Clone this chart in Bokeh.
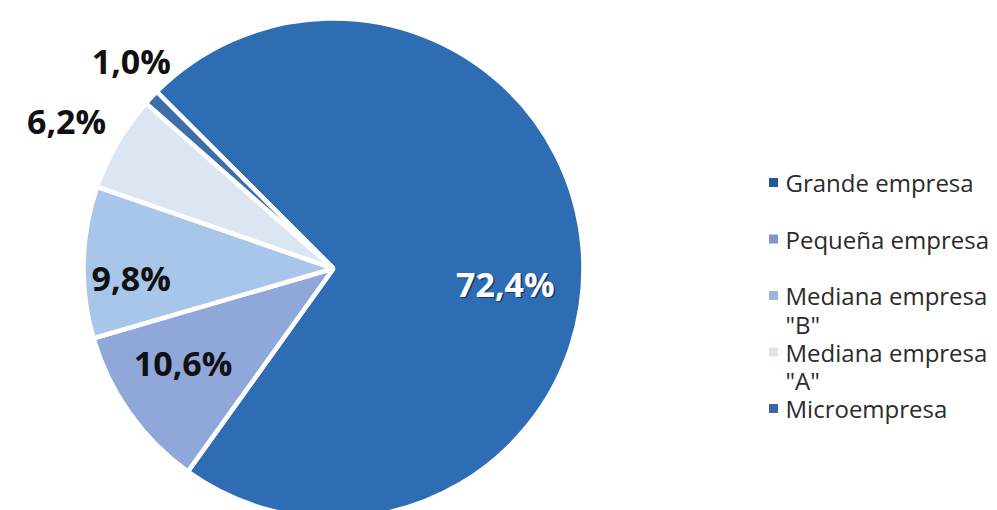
import numpy as np
from bokeh.plotting import figure
from bokeh.models import ColumnDataSource, Range1d
from bokeh.core.properties import value
from bokeh.embed import file_html
from bokeh.resources import INLINE

# ---- data ----
categories = ["Grande empresa", "Pequeña empresa", 'Mediana empresa "B"',
              'Mediana empresa "A"', "Microempresa"]
shares = [72.4, 10.6, 9.8, 6.2, 1.0]
pct_labels = ["72,4%", "10,6%", "9,8%", "6,2%", "1,0%"]
legend_first = ["Grande empresa", "Pequeña empresa", "Mediana empresa",
                "Mediana empresa", "Microempresa"]
legend_second = ["", "", '"B"', '"A"', ""]

# ---- style / layout ----
colors = ["#2E6DB4", "#90A7DA", "#A8C6E9", "#DCE6F2", "#3D6EA8"]
legend_colors = ["#24589A", "#8496CC", "#9AB6DA", "#DDE3EE", "#3A68A6"]
label_colors = ["white", "#111111", "#111111", "#111111", "#111111"]
label_rf = [0.69, 0.71, 0.81, 1.22, 1.16]          # radius factor of label
label_da = [-9.7, -3.2, 4.0, 1.3, -2.6]             # angle nudge (deg)

W, H = 997, 510
cx, cy, R = 333, H - 268, 250
start0 = np.radians(135)

vals = np.array(shares, dtype=float)
cum = np.concatenate([[0], np.cumsum(vals)]) / vals.sum() * 2 * np.pi
starts = start0 - cum[:-1]
ends = start0 - cum[1:]
mids = (starts + ends) / 2 + np.radians(label_da)
rf = np.array(label_rf)
lx = cx + R * rf * np.cos(mids)
ly = cy + R * rf * np.sin(mids)

src = ColumnDataSource(dict(cat=categories, start=starts, end=ends, color=colors,
                            lx=lx, ly=ly, lab=pct_labels, lcol=label_colors))

p = figure(width=W, height=H, x_range=Range1d(0, W), y_range=Range1d(0, H),
           output_backend="svg", toolbar_location=None,
           min_border=0, min_border_left=0, min_border_right=0,
           min_border_top=0, min_border_bottom=0)
p.axis.visible = False
p.grid.visible = False
p.outline_line_color = None
p.background_fill_color = "white"
p.border_fill_color = "white"

p.wedge(x=cx, y=cy, radius=R, start_angle="start", end_angle="end",
        direction="clock", fill_color="color", line_color="white",
        line_width=4.5, source=src)

LF = "34px"
# shadow for white label
sh = ColumnDataSource(dict(lx=lx[:1], ly=ly[:1], lab=pct_labels[:1]))
p.text(x="lx", y="ly", text="lab", source=sh, x_offset=1.5, y_offset=1.5,
       text_color="#10294d", text_alpha=0.8, text_font=value("Open Sans"),
       text_font_style="bold", text_font_size=LF,
       text_align="center", text_baseline="middle")
p.text(x="lx", y="ly", text="lab", source=src, text_color="lcol",
       text_font=value("Open Sans"), text_font_style="bold",
       text_font_size=LF, text_align="center", text_baseline="middle")

# legend
n = len(categories)
ly0 = H - 182
step = 56.5
item_y = ly0 - step * np.arange(n)
leg = ColumnDataSource(dict(x=[773] * n, y=item_y, c=legend_colors,
                            tx=[785] * n, t1=legend_first,
                            t2=legend_second, y2=item_y - 28.5))
p.scatter(x="x", y="y", marker="square", size=9, fill_color="c",
          line_color=None, source=leg)
p.text(x="tx", y="y", text="t1", source=leg, text_color="#2b2b2b",
       text_font=value("Open Sans"), text_font_size="24px",
       text_align="left", text_baseline="middle")
p.text(x="tx", y="y2", text="t2", source=leg, text_color="#2b2b2b",
       text_font=value("Open Sans"), text_font_size="24px",
       text_align="left", text_baseline="middle")

open("out.html", "w").write(file_html(p, INLINE))
